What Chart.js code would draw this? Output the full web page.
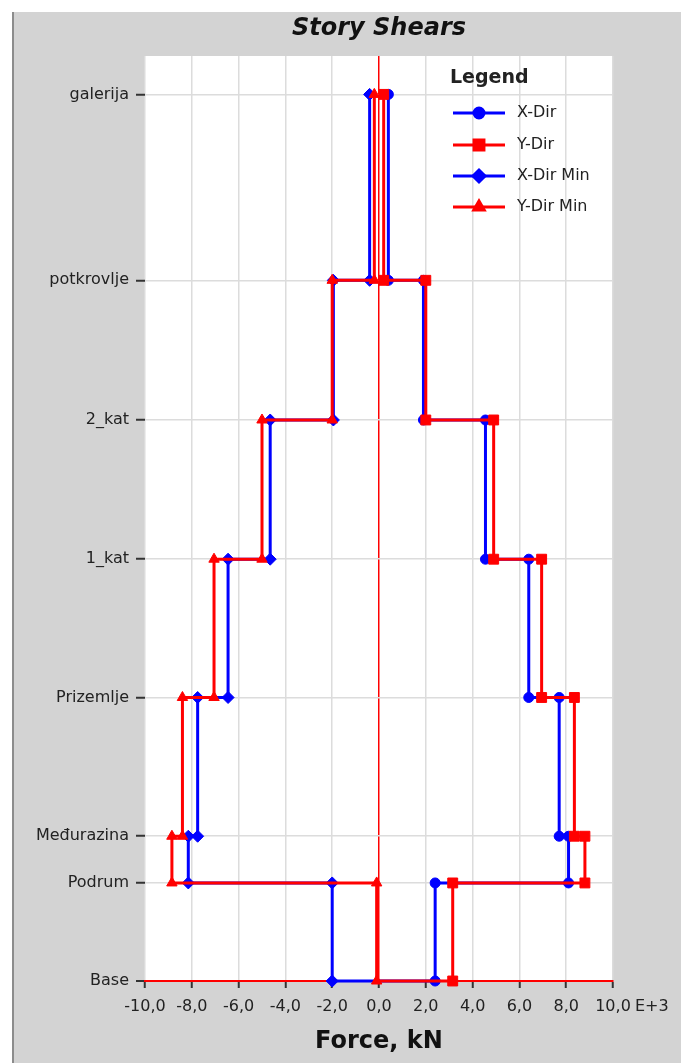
<!DOCTYPE html>
<html>
<head>
<meta charset="utf-8">
<script src="https://cdn.jsdelivr.net/npm/chart.js@4.4.0/dist/chart.umd.min.js"></script>
<style>
    html, body { margin: 0; padding: 0; background: #fff; }
    #wrap { width: 681px; height: 1063px; }
</style>
</head>
<body>
<div id="wrap"><canvas id="chart" width="681" height="1063"></canvas></div>
<script>
// story levels, bottom to top (elevation)
const stories = ['Base', 'Podrum', 'Međurazina', 'Prizemlje', '1_kat', '2_kat', 'potkrovlje', 'galerija'];
const storyElev = [0, 2.12, 3.13, 6.13, 9.12, 12.13, 15.15, 19.17];

// story shears, top story first (galerija ... Podrum), in E+3 kN
const xDir    = [0.4, 1.9, 4.55, 6.4, 7.7, 8.1, 2.4];
const yDir    = [0.2, 2.0, 4.9, 6.95, 8.35, 8.8, 3.15];
const xDirMin = [-0.4, -1.95, -4.65, -6.45, -7.75, -8.15, -2.0];
const yDirMin = [-0.2, -2.0, -5.0, -7.05, -8.4, -8.85, -0.1];

const xTicks = [-10, -8, -6, -4, -2, 0, 2, 4, 6, 8, 10];

const BLUE = '#0000ff';
const RED = '#ff0000';
const FONT = 'DejaVu Sans';

// step line: each story drawn from its top level down to the one below
function stepPoints(vals) {
    const pts = [];
    const top = storyElev.length - 1;
    vals.forEach((v, i) => {
        pts.push({ x: v, y: storyElev[top - i] });
        pts.push({ x: v, y: storyElev[top - i - 1] });
    });
    pts.push({ x: 0, y: storyElev[0] });
    return pts;
}

function series(label, vals, color, style, radius, order) {
    const pts = stepPoints(vals);
    return {
        label: label,
        data: pts,
        showLine: true,
        borderColor: color,
        backgroundColor: color,
        pointBackgroundColor: color,
        pointBorderColor: color,
        borderWidth: 3,
        pointStyle: style,
        pointRadius: pts.map((p, i) => i === pts.length - 1 ? 0 : radius),
        pointBorderWidth: 1,
        clip: false,
        order: order
    };
}

const datasets = [
    series('X-Dir', xDir, BLUE, 'circle', 5, 4),
    series('Y-Dir', yDir, RED, 'rect', 7, 2),
    series('X-Dir Min', xDirMin, BLUE, 'rectRot', 6, 3),
    series('Y-Dir Min', yDirMin, RED, 'triangle', 6, 1)
];

const deco = {
    id: 'deco',
    beforeDraw(chart) {
        const ctx = chart.ctx;
        const a = chart.chartArea;
        ctx.save();
        ctx.fillStyle = '#fff';
        ctx.fillRect(0, 0, chart.width, chart.height);
        ctx.fillStyle = '#d3d3d3';
        ctx.fillRect(13, 12, chart.width - 13, chart.height - 12);
        ctx.fillStyle = '#8c8c8c';
        ctx.fillRect(12, 12, 2, chart.height - 12);
        ctx.fillStyle = '#fff';
        ctx.fillRect(a.left, a.top, a.right - a.left, a.bottom - a.top);
        ctx.restore();
    },
    afterDraw(chart) {
        const ctx = chart.ctx;
        const a = chart.chartArea;
        ctx.save();
        // title
        ctx.fillStyle = '#111';
        ctx.font = 'italic bold 24px "' + FONT + '"';
        ctx.textAlign = 'center';
        ctx.textBaseline = 'middle';
        ctx.fillText('Story Shears', (a.left + a.right) / 2, 29);

        // exponent next to the last x tick
        ctx.font = '16px "' + FONT + '"';
        ctx.fillStyle = '#222';
        ctx.textAlign = 'left';
        ctx.fillText('E+3', a.right + 22, 1007);

        // legend inside the plot
        ctx.font = 'bold 19px "' + FONT + '"';
        ctx.fillStyle = '#222';
        ctx.fillText('Legend', 450, 78);
        const rowY = [113, 145, 176, 207];
        ctx.font = '16px "' + FONT + '"';
        datasets.forEach((d, i) => {
            const y = rowY[i];
            ctx.strokeStyle = d.borderColor;
            ctx.lineWidth = 3;
            ctx.beginPath();
            ctx.moveTo(453, y);
            ctx.lineTo(505, y);
            ctx.stroke();
            ctx.fillStyle = d.borderColor;
            Chart.helpers.drawPoint(ctx, {
                pointStyle: d.pointStyle,
                radius: d.pointStyle === 'rect' ? 7 : (d.pointStyle === 'circle' ? 5 : 6),
                borderWidth: 1,
                rotation: 0
            }, 479, y);
            ctx.fillStyle = '#222';
            ctx.fillText(d.label, 517, y);
        });
        ctx.restore();
    }
};

new Chart(document.getElementById('chart'), {
    type: 'scatter',
    data: { datasets: datasets },
    plugins: [deco],
    options: {
        responsive: false,
        animation: false,
        devicePixelRatio: 1,
        layout: { padding: { top: 56, right: 68, left: 0, bottom: 0 } },
        plugins: {
            legend: { display: false },
            tooltip: { enabled: false },
            title: { display: false }
        },
        scales: {
            x: {
                type: 'linear',
                min: -10,
                max: 10,
                afterFit: s => { s.height = 82; },
                afterBuildTicks: s => { s.ticks = xTicks.map(v => ({ value: v })); },
                grid: {
                    color: c => (c.tick && c.tick.value === 0) ? RED : '#dcdcdc',
                    lineWidth: 1.5,
                    tickColor: '#333',
                    tickLength: 7,
                    tickWidth: 2
                },
                border: { display: true, color: RED, width: 2 },
                ticks: {
                    padding: 9,
                    maxRotation: 0,
                    color: '#222',
                    font: { family: FONT, size: 16 },
                    callback: v => v.toFixed(1).replace('.', ',')
                },
                title: {
                    display: true,
                    text: 'Force, kN',
                    color: '#111',
                    font: { family: FONT, size: 24, weight: 'bold' },
                    padding: { top: 0, bottom: 7 }
                }
            },
            y: {
                type: 'linear',
                min: 0,
                max: 20,
                afterFit: s => { s.width = 145; },
                afterBuildTicks: s => { s.ticks = storyElev.map(v => ({ value: v })); },
                grid: {
                    color: c => (c.tick && c.tick.value === 0) ? RED : '#dcdcdc',
                    lineWidth: c => (c.tick && c.tick.value === 0) ? 2 : 1.5,
                    tickColor: '#333',
                    tickLength: 9,
                    tickWidth: 2
                },
                border: { display: false },
                ticks: {
                    padding: 7,
                    color: '#222',
                    font: { family: FONT, size: 16 },
                    callback: v => {
                        const i = storyElev.findIndex(e => Math.abs(e - v) < 1e-6);
                        return i >= 0 ? stories[i] : '';
                    }
                }
            }
        }
    }
});
</script>
</body>
</html>
